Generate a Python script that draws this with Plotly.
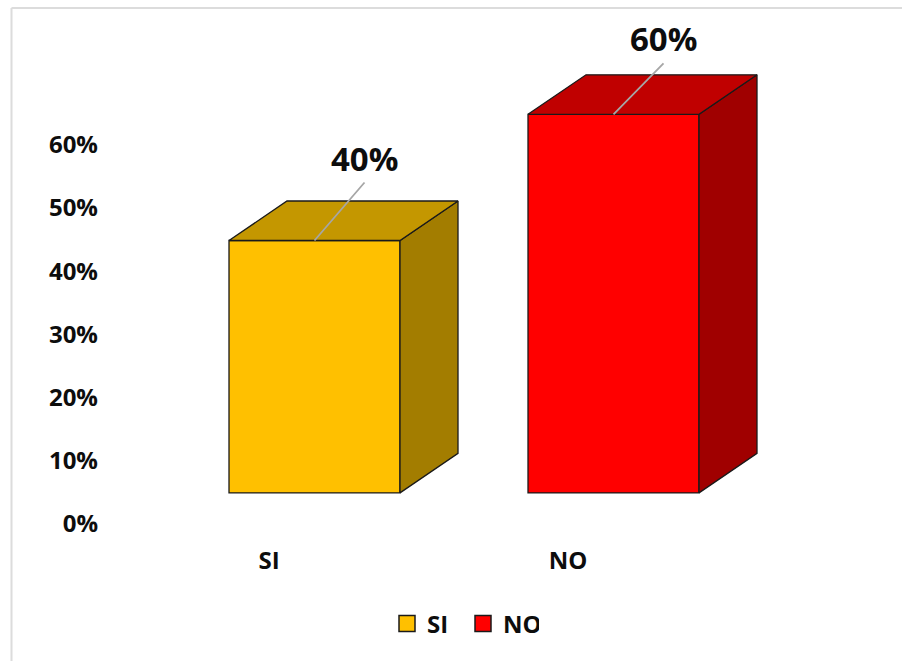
import plotly.graph_objects as go

categories = ["SI", "NO"]
values = [40, 60]
value_labels = ["40%", "60%"]
front_colors = ["#FFC000", "#FF0000"]
top_colors = ["#C49700", "#C00000"]
side_colors = ["#A37D00", "#A00000"]
y_ticks = [0, 10, 20, 30, 40, 50, 60]
y_tick_labels = ["0%", "10%", "20%", "30%", "40%", "50%", "60%"]

W, H = 902, 661
L, R, T, B = 99, 802, 20, 544
px_per_unit_x = 299.0
px_per_unit_y = 6.31
x_center0 = 314.5
y_zero_px = 523.5
floor_shift = 4.85          # bars sit above the axis zero (3D floor)
bar_w = 171 / px_per_unit_x
dx = 58 / px_per_unit_x     # depth offsets
dy = 39.5 / px_per_unit_y
label_shift = -0.152

x0 = (L - x_center0) / px_per_unit_x
x1 = (R - x_center0) / px_per_unit_x
ymin = (y_zero_px - B) / px_per_unit_y
ymax = (y_zero_px - T) / px_per_unit_y

FONT = "Open Sans"
TXT = "#0d0d0d"
EDGE = dict(color="#1a1a1a", width=1.3)

fig = go.Figure()

for i, (cat, v) in enumerate(zip(categories, values)):
    xl, xr = i - bar_w / 2, i + bar_w / 2
    # side face
    fig.add_trace(go.Scatter(
        x=[xr, xr, xr + dx, xr + dx, xr], y=[0, v, v + dy, dy, 0],
        yaxis="y2", mode="lines", fill="toself", fillcolor=side_colors[i],
        line=EDGE, showlegend=False, hoverinfo="skip"))
    # top face
    fig.add_trace(go.Scatter(
        x=[xl, xl + dx, xr + dx, xr, xl], y=[v, v + dy, v + dy, v, v],
        yaxis="y2", mode="lines", fill="toself", fillcolor=top_colors[i],
        line=EDGE, showlegend=False, hoverinfo="skip"))
    # front face
    fig.add_trace(go.Bar(
        x=[i], y=[v], base=0, width=bar_w, yaxis="y2",
        marker=dict(color=front_colors[i], line=EDGE),
        showlegend=False, name=cat))
    # legend entry
    fig.add_trace(go.Scatter(
        x=[None], y=[None], mode="markers", name=cat,
        marker=dict(symbol="square", size=16, color=front_colors[i],
                    line=dict(color="#1a1a1a", width=1.5))))
    # data label with leader line
    fig.add_annotation(
        x=i, y=v, xref="x", yref="y2", text=value_labels[i],
        showarrow=True, arrowhead=0, arrowwidth=1.8, arrowcolor="#A6A6A6",
        ax=50, ay=-58 if i == 0 else -51, xanchor="center", yanchor="bottom",
        standoff=0, font=dict(family=FONT, size=33, color=TXT, weight="bold"))

fig.update_layout(
    width=W, height=H,
    margin=dict(l=L, r=W - R, t=T, b=H - B),
    paper_bgcolor="white", plot_bgcolor="white",
    barmode="overlay",
    xaxis=dict(range=[x0, x1], showgrid=False, zeroline=False, showline=False,
               tickmode="array",
               tickvals=[i + label_shift for i in range(len(categories))],
               ticktext=categories, ticks="",
               tickfont=dict(family=FONT, size=24, color=TXT, weight="bold")),
    yaxis=dict(range=[ymin, ymax], showgrid=False, zeroline=False, showline=False,
               tickmode="array", tickvals=y_ticks, ticktext=y_tick_labels,
               ticks="",
               tickfont=dict(family=FONT, size=24, color=TXT, weight="bold")),
    yaxis2=dict(range=[ymin - floor_shift, ymax - floor_shift], overlaying="y",
                visible=False),
    legend=dict(orientation="h", xref="container", yref="container",
                x=463 / W, y=1 - 624 / H, xanchor="center", yanchor="middle",
                font=dict(family=FONT, size=24, color=TXT, weight="bold"),
                itemwidth=30, tracegroupgap=0,
                entrywidth=31, entrywidthmode="pixels"),
    showlegend=True,
)

# chart frame (top and left edges visible)
fig.add_shape(type="line", xref="paper", yref="paper",
              x0=(11.5 - L) / (R - L), x1=(W + 5 - L) / (R - L),
              y0=(B - 8) / (B - T), y1=(B - 8) / (B - T),
              line=dict(color="#DCDCDC", width=2))
fig.add_shape(type="line", xref="paper", yref="paper",
              x0=(11.5 - L) / (R - L), x1=(11.5 - L) / (R - L),
              y0=(B - 8) / (B - T), y1=(B - H - 5) / (B - T),
              line=dict(color="#DCDCDC", width=2))

fig.write_html("out.html")
